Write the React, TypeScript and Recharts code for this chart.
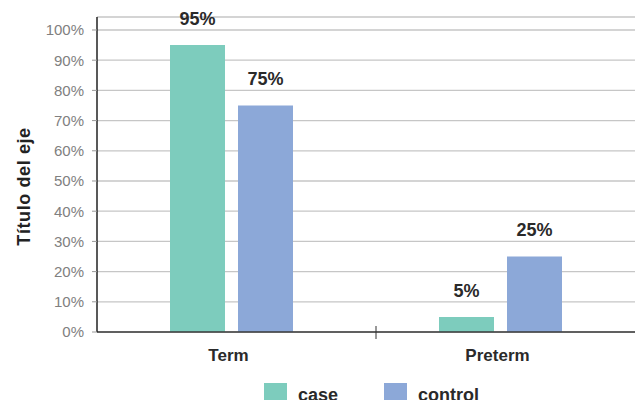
import React from 'react'
import { BarChart, Bar, XAxis, YAxis, CartesianGrid, Legend, LabelList } from 'recharts'

const categories = ['Term', 'Preterm']
const caseValues = [0.95, 0.05]
const controlValues = [0.75, 0.25]
const yTicks = [0, 0.1, 0.2, 0.3, 0.4, 0.5, 0.6, 0.7, 0.8, 0.9, 1]

const CASE_COLOR = '#7dccbd'
const CONTROL_COLOR = '#8ca8d8'
const FONT = '"Liberation Sans", Arial, sans-serif'

const data = categories.map((name, i) => ({ name, case: caseValues[i], control: controlValues[i] }))

const pct = (v: number | string) => `${Math.round(Number(v) * 100)}%`

function CategoryTick(props: any) {
  const { x, y, payload, index } = props
  const half = payload?.offset ?? 135
  return (
    <g>
      {index === 0 && <line x1={x + half + 10} x2={x + half + 10} y1={y - 14} y2={y - 1} stroke="#333" strokeWidth={1} />}
      <text x={x - 3} y={y + 21} textAnchor="middle" fontFamily={FONT} fontSize={17} fontWeight={600} fill="#2a2a2a">
        {payload.value}
      </text>
    </g>
  )
}

function LegendContent({ payload }: any) {
  return (
    <div style={{ display: 'flex', justifyContent: 'center', gap: 46, paddingLeft: 108 }}>
      {(payload || []).map((p: any) => (
        <div key={p.value} style={{ display: 'flex', alignItems: 'flex-start', gap: 11 }}>
          <span style={{ width: 23, height: 23, background: p.color, display: 'inline-block' }} />
          <span style={{ fontFamily: FONT, fontSize: 18, fontWeight: 600, color: '#2a2a2a', lineHeight: '23px', marginTop: 1 }}>
            {p.value}
          </span>
        </div>
      ))}
    </div>
  )
}

export default function App() {
  return (
    <div style={{ position: 'absolute', left: 0, top: 0, width: 635, height: 400, overflow: 'hidden', background: '#fff' }}>
      <BarChart
        width={635}
        height={400}
        data={data}
        margin={{ top: 17, right: 0, bottom: 6, left: 0 }}
        barSize={55}
        barGap={13}
      >
        <CartesianGrid vertical={false} stroke="#c6c6c6" strokeWidth={1.3} />
        <XAxis
          dataKey="name"
          height={40}
          axisLine={{ stroke: '#3a3a3a', strokeWidth: 1.5 }}
          tickLine={false}
          tick={<CategoryTick />}
          interval={0}
        />
        <YAxis
          width={97}
          domain={[0, 1.043]}
          ticks={yTicks}
          tickFormatter={pct}
          axisLine={{ stroke: '#222', strokeWidth: 1.5 }}
          tickLine={{ stroke: '#999' }}
          tickSize={5}
          tickMargin={8}
          tick={{ fontFamily: FONT, fontSize: 15, fill: '#808080' }}
          allowDataOverflow
          label={{
            value: 'Título del eje',
            angle: -90,
            position: 'insideLeft',
            dx: 19,
            dy: 12,
            style: { fontFamily: FONT, fontSize: 18, fontWeight: 700, fill: '#222', textAnchor: 'middle', letterSpacing: 0.6 },
          }}
        />
        <Legend
          verticalAlign="bottom"
          height={22}
          content={<LegendContent />}
          wrapperStyle={{ top: 383, left: 0, width: 635 }}
        />
        <Bar dataKey="case" name="case" fill={CASE_COLOR} isAnimationActive={false}>
          <LabelList dataKey="case" position="top" offset={20} formatter={pct} style={{ fontFamily: FONT, fontSize: 18, fontWeight: 600, fill: '#2a2a2a' }} />
        </Bar>
        <Bar dataKey="control" name="control" fill={CONTROL_COLOR} isAnimationActive={false}>
          <LabelList dataKey="control" position="top" offset={20} formatter={pct} style={{ fontFamily: FONT, fontSize: 18, fontWeight: 600, fill: '#2a2a2a' }} />
        </Bar>
      </BarChart>
    </div>
  )
}
